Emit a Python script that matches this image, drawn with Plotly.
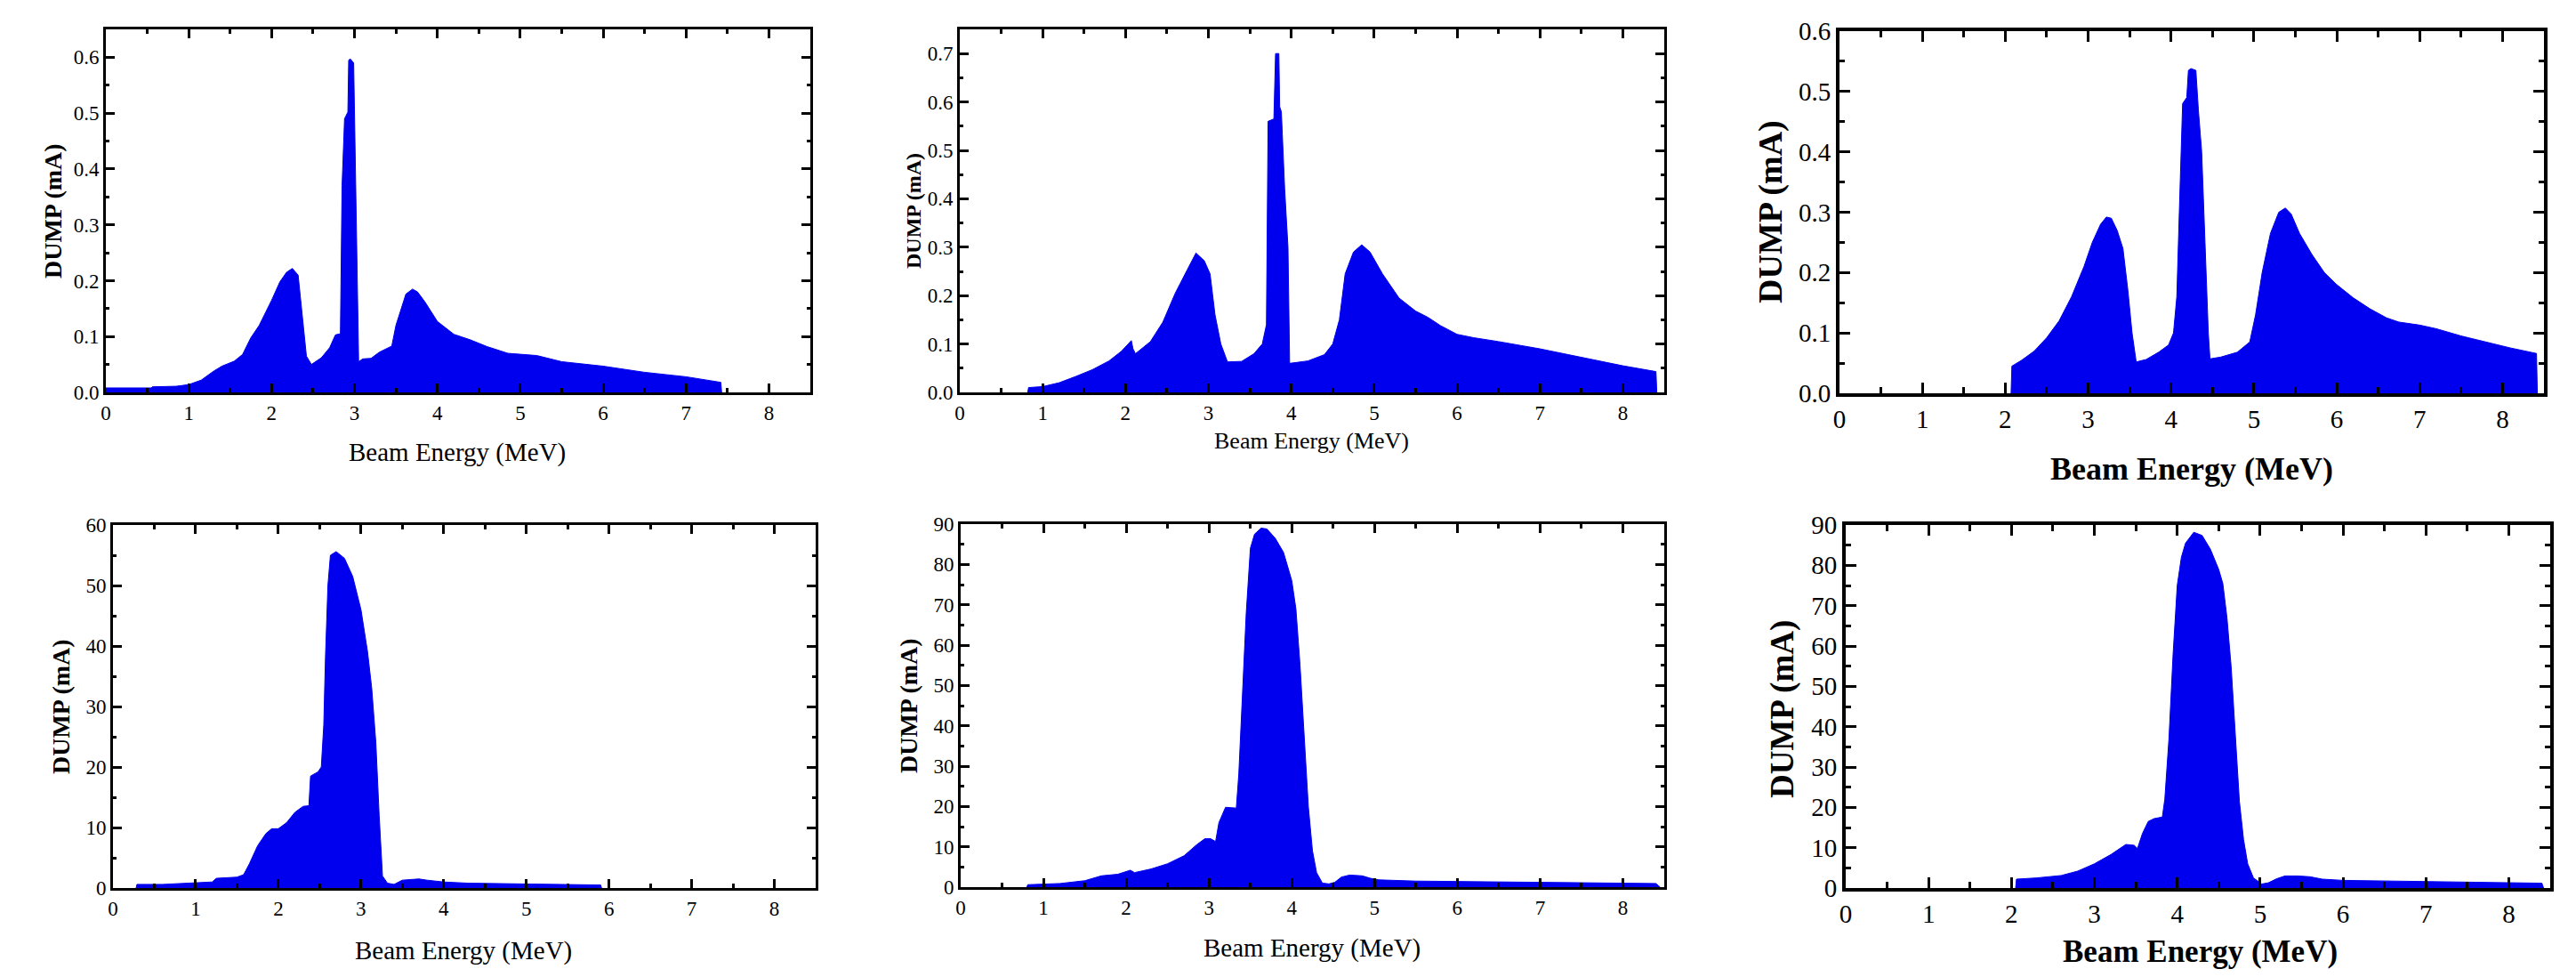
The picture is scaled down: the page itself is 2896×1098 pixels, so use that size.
import plotly.graph_objects as go

# ---------------- data ----------------
x1 = [0.0, 0.55, 0.56, 0.85, 1.0, 1.15, 1.3, 1.4, 1.55, 1.65, 1.75, 1.85, 2.0, 2.1, 2.18, 2.25, 2.32, 2.36,
      2.42, 2.48, 2.6, 2.7, 2.77, 2.83, 2.85, 2.88, 2.92, 2.93, 2.95, 2.99, 3.0, 3.03, 3.05, 3.1, 3.2, 3.3,
      3.45, 3.5, 3.55, 3.62, 3.7, 3.76, 3.85, 4.0, 4.2, 4.4, 4.6, 4.85, 5.2, 5.5, 6.0, 6.5, 7.0, 7.42, 7.43]
y1 = [0.008, 0.008, 0.01, 0.011, 0.014, 0.022, 0.038, 0.047, 0.056, 0.068, 0.098, 0.12, 0.165, 0.198, 0.215,
      0.222, 0.21, 0.15, 0.065, 0.05, 0.062, 0.08, 0.103, 0.105, 0.37, 0.49, 0.502, 0.595, 0.597, 0.59, 0.5,
      0.25, 0.055, 0.06, 0.061, 0.072, 0.083, 0.12, 0.145, 0.176, 0.185, 0.18, 0.162, 0.127, 0.104, 0.094,
      0.082, 0.07, 0.066, 0.055, 0.047, 0.036, 0.028, 0.018, 0.0]

x2 = [0.82, 0.83, 1.0, 1.2, 1.4, 1.6, 1.8, 1.95, 2.07, 2.09, 2.12, 2.3, 2.45, 2.6, 2.75, 2.85, 2.95, 3.02,
      3.08, 3.15, 3.23, 3.4, 3.55, 3.65, 3.7, 3.72, 3.79, 3.81, 3.85, 3.86, 3.88, 3.92, 3.96, 3.98, 4.2,
      4.4, 4.5, 4.58, 4.65, 4.75, 4.85, 4.95, 5.1, 5.3, 5.5, 5.65, 5.8, 6.0, 6.2, 6.5, 7.0, 7.5, 8.0, 8.4, 8.41]
y2 = [0.0, 0.01, 0.012, 0.02, 0.033, 0.047, 0.065, 0.085, 0.107, 0.09, 0.08, 0.105, 0.145, 0.205, 0.255,
      0.288, 0.272, 0.245, 0.16, 0.1, 0.063, 0.064, 0.08, 0.1, 0.14, 0.56, 0.565, 0.70, 0.70, 0.59, 0.58,
      0.42, 0.3, 0.06, 0.065, 0.078, 0.1, 0.15, 0.245, 0.29, 0.305, 0.29, 0.245, 0.195, 0.168, 0.155,
      0.138, 0.12, 0.113, 0.105, 0.09, 0.072, 0.055, 0.043, 0.0]

x3 = [2.07, 2.08, 2.2, 2.35, 2.5, 2.65, 2.8, 2.95, 3.05, 3.15, 3.22, 3.28, 3.35, 3.42, 3.48, 3.53, 3.58,
      3.7, 3.85, 3.97, 4.03, 4.07, 4.1, 4.14, 4.19, 4.21, 4.24, 4.3, 4.33, 4.37, 4.41, 4.45, 4.47, 4.6,
      4.8, 4.95, 5.02, 5.1, 5.2, 5.3, 5.38, 5.45, 5.55, 5.7, 5.85, 6.0, 6.2, 6.4, 6.6, 6.75, 7.0, 7.2,
      7.5, 7.8, 8.1, 8.41, 8.42]
y3 = [0.0, 0.045, 0.055, 0.07, 0.092, 0.12, 0.16, 0.21, 0.25, 0.28, 0.292, 0.29, 0.27, 0.24, 0.17, 0.1,
      0.052, 0.056, 0.068, 0.08, 0.1, 0.16, 0.3, 0.48, 0.49, 0.535, 0.538, 0.535, 0.47, 0.4, 0.25, 0.1,
      0.057, 0.06, 0.068, 0.085, 0.13, 0.2, 0.265, 0.3, 0.307, 0.297, 0.265, 0.23, 0.2, 0.18, 0.158,
      0.14, 0.125, 0.118, 0.113, 0.107, 0.095, 0.085, 0.075, 0.066, 0.0]

x4 = [0.28, 0.29, 0.6, 1.0, 1.2, 1.25, 1.5, 1.58, 1.65, 1.75, 1.85, 1.92, 2.0, 2.1, 2.2, 2.3, 2.37, 2.39,
      2.48, 2.52, 2.55, 2.57, 2.6, 2.63, 2.7, 2.8, 2.9, 3.0, 3.08, 3.13, 3.18, 3.22, 3.26, 3.32, 3.4,
      3.5, 3.7, 3.8, 4.0, 4.3, 4.8, 5.3, 5.9, 5.91]
y4 = [0.0, 0.6, 0.6, 0.8, 1.0, 1.6, 1.8, 2.2, 4.0, 7.0, 9.0, 9.8, 9.8, 10.8, 12.5, 13.5, 13.6, 18.5,
      19.2, 20.0, 27.0, 38.0, 50.0, 55.0, 55.6, 54.5, 51.5, 46.0, 39.0, 33.0, 24.0, 12.0, 2.0, 0.8,
      0.6, 1.3, 1.5, 1.3, 1.0, 0.8, 0.7, 0.6, 0.5, 0.0]

x5 = [0.8, 0.81, 1.2, 1.5, 1.7, 1.9, 2.05, 2.1, 2.3, 2.5, 2.7, 2.85, 2.95, 3.02, 3.08, 3.12, 3.2, 3.33,
      3.36, 3.4, 3.45, 3.5, 3.55, 3.63, 3.7, 3.8, 3.9, 4.0, 4.05, 4.1, 4.15, 4.2, 4.25, 4.3, 4.37,
      4.45, 4.52, 4.6, 4.7, 4.85, 4.95, 5.05, 5.5, 6.5, 7.5, 8.4, 8.45]
y5 = [0.0, 0.6, 0.9, 1.6, 2.8, 3.2, 4.2, 3.6, 4.5, 5.8, 7.8, 10.5, 12.0, 12.0, 11.3, 16.0, 19.8, 19.6,
      28.0, 45.0, 68.0, 84.0, 87.5, 89.0, 88.8, 86.5, 83.0, 76.0, 69.0, 55.0, 37.0, 20.0, 9.0, 3.6, 1.0,
      0.8, 1.2, 2.5, 3.0, 2.8, 2.2, 1.8, 1.5, 1.3, 1.1, 0.9, 0.0]

x6 = [2.05, 2.06, 2.3, 2.6, 2.8, 3.0, 3.2, 3.3, 3.38, 3.48, 3.52, 3.58, 3.65, 3.72, 3.82, 3.85, 3.9,
      3.95, 4.0, 4.05, 4.1, 4.2, 4.3, 4.4, 4.5, 4.55, 4.6, 4.65, 4.7, 4.75, 4.8, 4.85, 4.92, 5.02, 5.1,
      5.2, 5.3, 5.45, 5.6, 5.75, 6.0, 7.0, 8.0, 8.4, 8.42]
y6 = [0.0, 2.2, 2.5, 3.1, 4.2, 6.0, 8.3, 9.8, 10.8, 10.6, 9.8, 13.5, 16.5, 17.2, 17.6, 22.0, 37.0,
      58.0, 75.0, 82.0, 85.5, 88.2, 87.4, 84.0, 79.0, 75.5, 67.0, 55.0, 38.0, 21.5, 12.0, 6.0, 2.5, 1.0,
      1.3, 2.3, 3.0, 3.0, 2.8, 2.2, 1.9, 1.6, 1.4, 1.2, 0.0]

x_tick_vals = [0, 1, 2, 3, 4, 5, 6, 7, 8]
x_title = "Beam Energy (MeV)"
y_title = "DUMP (mA)"

# ---------------- layout helpers ----------------
PAGE_W, PAGE_H = 2896, 1098
OFF = 8                      # default <body> margin of the written page
W, H = PAGE_W - 2 * OFF, PAGE_H - 2 * OFF
FONT = "Liberation Serif, Times New Roman, serif"
BLUE = "rgb(0,0,238)"


def px(x):
    return (x - OFF) / W


def py(y):
    return 1 - (y - OFF) / H


# (xs, ys, plot box [l, t, r, b] page px, y range, y dtick, y tickformat, tick font,
#  xtitle font, xtitle bold, xtitle center, ytitle font, ytitle center, frame width, big)
panels = [
    (x1, y1, [119, 33, 911, 441], [0, 0.65], 0.1, ".1f", 23, 29, False, (514, 508), 28, (59, 237), 3, False),
    (x2, y2, [1079, 33, 1871, 441], [0, 0.75], 0.1, ".1f", 23, 26, False, (1474, 495), 24, (1027, 237), 3, False),
    (x3, y3, [2068, 35, 2860, 442], [0, 0.6], 0.1, ".1f", 29, 36, True, (2464, 527), 38, (1990, 238), 4, True),
    (x4, y4, [127, 590, 917, 998], [0, 60], 10, "d", 23, 29, False, (521, 1068), 28, (68, 794), 3, False),
    (x5, y5, [1080, 589, 1871, 997], [0, 90], 10, "d", 23, 29, False, (1475, 1065), 28, (1021, 793), 3, False),
    (x6, y6, [2075, 590, 2867, 998], [0, 90], 10, "d", 29, 35, True, (2473, 1069), 37, (2004, 797), 4, True),
]

fig = go.Figure()
annotations = []
for i, (xs, ys, box, yr, ydt, yfmt, tfs, xfs, xbold, xc, yfs, yc, lw, big) in enumerate(panels):
    n = "" if i == 0 else str(i + 1)
    l, t, r, b = box
    fig.add_trace(go.Scatter(
        x=xs, y=ys, mode="lines", fill="tozeroy", fillcolor=BLUE,
        line=dict(color=BLUE, width=1), xaxis="x" + n, yaxis="y" + n,
        showlegend=False, hoverinfo="skip"))
    major = 12 if big else 10
    minor = 6 if big else 4
    common = dict(showline=True, linecolor="black", linewidth=lw, mirror="ticks",
                  ticks="inside", tickcolor="black", tickwidth=3 if big else 2.5, ticklen=major,
                  showgrid=False, zeroline=False, automargin=False,
                  tickfont=dict(family=FONT, size=tfs, color="black"))
    fig.update_layout(**{
        "xaxis" + n: dict(common, domain=[px(l), px(r)], range=[0, 8.5], anchor="y" + n,
                          tickvals=x_tick_vals,
                          minor=dict(ticks="inside", dtick=0.5, tick0=0, ticklen=minor + 1,
                                     tickwidth=2.5, tickcolor="black")),
        "yaxis" + n: dict(common, domain=[py(b), py(t)], range=yr, anchor="x" + n,
                          tick0=0, dtick=ydt, tickformat=yfmt,
                          minor=dict(ticks="inside", dtick=ydt / 2, tick0=0, ticklen=minor,
                                     tickwidth=2.5, tickcolor="black")),
    })
    xt = "<b>" + x_title + "</b>" if xbold else x_title
    annotations.append(dict(text=xt, x=px(xc[0]), y=py(xc[1]), xref="paper", yref="paper",
                            xanchor="center", yanchor="middle", showarrow=False,
                            font=dict(family=FONT, size=xfs, color="black")))
    annotations.append(dict(text="<b>" + y_title + "</b>", x=px(yc[0]), y=py(yc[1]),
                            xref="paper", yref="paper", xanchor="center", yanchor="middle",
                            textangle=-90, showarrow=False,
                            font=dict(family=FONT, size=yfs, color="black")))

fig.update_layout(width=W, height=H, margin=dict(l=0, r=0, t=0, b=0, autoexpand=False),
                  paper_bgcolor="white", plot_bgcolor="white", annotations=annotations)
fig.write_html("out.html")
